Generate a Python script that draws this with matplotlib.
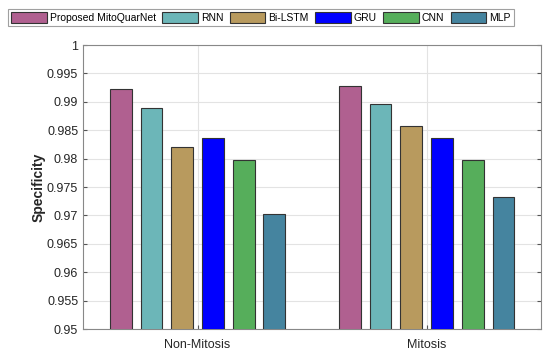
import matplotlib.pyplot as plt
import numpy as np

plt.rcParams['font.family'] = ['Liberation Sans', 'DejaVu Sans']

groups = ['Non-Mitosis', 'Mitosis']
models = ['Proposed MitoQuarNet', 'RNN', 'Bi-LSTM', 'GRU', 'CNN', 'MLP']
specificity = {
    'Proposed MitoQuarNet': [0.9922, 0.9928],
    'RNN': [0.9890, 0.9897],
    'Bi-LSTM': [0.9821, 0.9858],
    'GRU': [0.9836, 0.9837],
    'CNN': [0.9798, 0.9797],
    'MLP': [0.9703, 0.9732],
}
colors = ['#B06090', '#6CB6B8', '#B89A5E', '#0000FF', '#56AE5B', '#45849F']

fig = plt.figure(figsize=(5.5, 3.52), dpi=100)
ax = fig.add_axes([0.151, 0.065, 0.833, 0.807])

x = np.arange(1, len(groups) + 1)
step = 0.134
width = 0.095
for i, m in enumerate(models):
    off = (i - (len(models) - 1) / 2) * step
    ax.bar(x + off, specificity[m], width, color=colors[i], edgecolor='#333333',
           linewidth=0.8, label=m, zorder=3)

ax.set_xlim(0.5, 2.5)
ax.set_ylim(0.95, 1.0)
ax.set_yticks(np.arange(0.95, 1.0001, 0.005))
ax.set_yticklabels(['0.95', '0.955', '0.96', '0.965', '0.97', '0.975',
                    '0.98', '0.985', '0.99', '0.995', '1'])
ax.set_xticks(x)
ax.set_xticklabels(groups)
ax.tick_params(direction='in', length=3, color='#555555', labelsize=9,
               labelcolor='#262626', top=False, right=True)
ax.tick_params(axis='x', pad=7)
ax.grid(True, color='#E3E3E3', linewidth=0.8, zorder=0)
for s in ax.spines.values():
    s.set_color('#888888')
    s.set_linewidth(0.8)
ax.set_ylabel('Specificity', fontsize=10, fontweight='bold', color='#262626',
              labelpad=1)

leg = fig.legend(loc='upper left', bbox_to_anchor=(0.0145, 0.975), ncol=6,
                 fontsize=7.5, frameon=True, fancybox=False, edgecolor='#888888',
                 handlelength=3.4, handleheight=1.2, handletextpad=0.3,
                 columnspacing=0.62, borderpad=0.3, borderaxespad=0)
leg.get_frame().set_linewidth(0.8)

fig.savefig('out.png', dpi=100)
